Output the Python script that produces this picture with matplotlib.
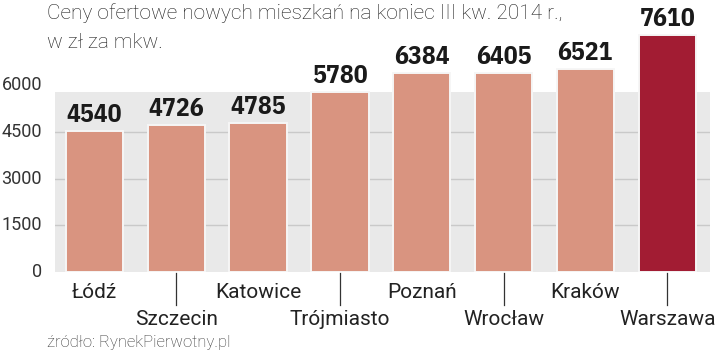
import numpy as np
import matplotlib
matplotlib.use('Agg')
import matplotlib.pyplot as plt
from matplotlib.patches import Rectangle

# data
cities  = ['Łódź', 'Szczecin', 'Katowice', 'Trójmiasto', 'Poznań', 'Wrocław', 'Kraków', 'Warszawa']
prices  = [4540, 4726, 4785, 5780, 6384, 6405, 6521, 7610]
yticks  = [0, 1500, 3000, 4500, 6000]
title_lines = ['Ceny ofertowe nowych mieszkań na koniec III kw. 2014 r.,', 'w zł za mkw.']
source  = 'źródło: RynekPierwotny.pl'

light_font = ['Roboto', 'DejaVu Sans']
num_font   = ['IBM Plex Sans Condensed', 'DejaVu Sans']
salmon     = '#d99480'
dark_red   = '#a21c33'
text_col   = '#222222'

fig = plt.figure(figsize=(7.2, 3.52), dpi=100)
# axes placed in pixels: x 55..710, y 20..272 (from top)
ax = fig.add_axes([55 / 720, (352 - 272) / 352, 655 / 720, 252 / 352])
ax.set_xlim(-0.483, 7.524)
ax.set_ylim(0, 8100)
ax.axis('off')

# grey panel behind the bars
ax.add_patch(Rectangle((-0.483, -80), 8.007, 5880, facecolor='#e9e9e9',
                       edgecolor='none', zorder=0))
for t in yticks[1:-1]:
    ax.plot([-0.483, 7.524], [t, t], color='#c9c9c9', lw=1, zorder=1)

x = np.arange(len(cities))
colors = [salmon] * (len(cities) - 1) + [dark_red]
bars = ax.bar(x, prices, width=0.70, color=colors, edgecolor='#f6f6f6',
              linewidth=1.4, zorder=2)

for xi, v in zip(x, prices):
    ax.text(xi, v + 290, str(v), ha='center', va='baseline', fontsize=18.5,
            fontweight='bold', family=num_font, color='#1a1a1a')

# category labels, alternating rows with leader lines
for i, (xi, name) in enumerate(zip(x, cities)):
    if i % 2 == 0:
        ax.text(xi, -643, name, ha='center', va='center', fontsize=15,
                family=light_font, color=text_col, clip_on=False)
    else:
        ax.plot([xi, xi], [-40, -1070], color='#333333', lw=0.9, clip_on=False)
        ax.text(xi, -1511, name, ha='center', va='center', fontsize=15,
                family=light_font, color=text_col, clip_on=False)

# y tick labels
for t in yticks:
    fig.text(42 / 720, (352 - (272 - t * 0.031111)) / 352, str(t), ha='right',
             va='center', fontsize=13, family=light_font, color='#333333')

# title, one text per line
for k, line in enumerate(title_lines):
    fig.text(47 / 720, 1 - (3 + 30 * k) / 352, line, ha='left', va='top', fontsize=15,
             family=light_font, fontweight='light', color='#1a1a1a')
fig.text(47 / 720, 1 - 343 / 352, source, ha='left', va='center', fontsize=12,
         family=light_font, fontweight='light', color='#333333')

fig.savefig('out.png', dpi=100)
